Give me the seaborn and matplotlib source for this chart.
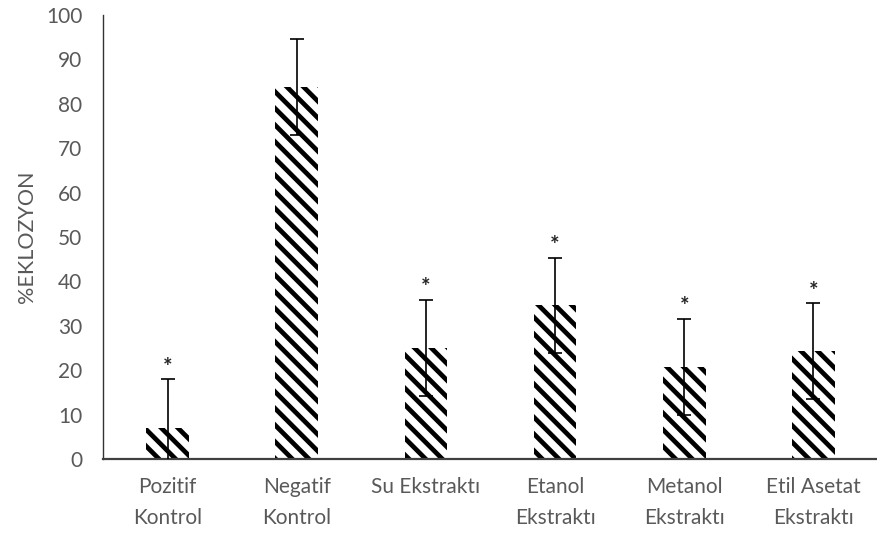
import matplotlib
matplotlib.use("Agg")
import matplotlib.pyplot as plt
import seaborn as sns
import pandas as pd

categories = ["Pozitif\nKontrol", "Negatif\nKontrol", "Su Ekstraktı",
              "Etanol\nEkstraktı", "Metanol\nEkstraktı", "Etil Asetat\nEkstraktı"]
values = [7.0, 83.7, 25.0, 34.6, 20.7, 24.3]
errors = [11.0, 10.8, 10.9, 10.7, 10.9, 10.8]
stars = ["*", "", "*", "*", "*", "*"]
yticks = list(range(0, 101, 10))

sns.set_theme(style="white")
plt.rcParams["font.family"] = ["Lato", "DejaVu Sans"]
plt.rcParams["hatch.linewidth"] = 3.4

df = pd.DataFrame({"cat": categories, "val": values})

fig = plt.figure(figsize=(8.78, 5.37), dpi=100)
ax = fig.add_axes([103 / 878, 1 - 459 / 537, (878 - 103) / 878, (459 - 15) / 537])

sns.barplot(data=df, x="cat", y="val", ax=ax, width=0.33, color="white",
            saturation=1, edgecolor="black", linewidth=0, hatch="\\\\")

xs = list(range(len(categories)))
ax.errorbar(xs, values, yerr=errors, fmt="none", ecolor="black",
            elinewidth=1.2, capsize=4.7, capthick=1.2, zorder=5)

for x, v, e, s in zip(xs, values, errors, stars):
    if s:
        ax.text(x, v + e + 2.7, s, ha="center", va="center", fontsize=16,
                fontweight="bold", color="#262626")

ax.set_xlim(-0.5, 5.5)
ax.set_ylim(0, 100)
ax.set_yticks(yticks)
ax.set_yticklabels([str(t) for t in yticks])
ax.tick_params(axis="y", length=0, pad=15, labelsize=15, labelcolor="#595959")
ax.tick_params(axis="x", length=0, pad=13, labelsize=15, labelcolor="#595959")
for lab in ax.get_xticklabels():
    lab.set_linespacing(1.7)

ax.set_xlabel("")
ax.set_ylabel("%EKLOZYON", fontsize=15.5, color="#595959")
ax.yaxis.set_label_coords(-0.085, 0.5)

for side in ["top", "right"]:
    ax.spines[side].set_visible(False)
ax.spines["left"].set_color("#333333")
ax.spines["left"].set_linewidth(1.0)
ax.spines["bottom"].set_color("#404040")
ax.spines["bottom"].set_linewidth(1.6)

fig.savefig("out.png", dpi=100)
